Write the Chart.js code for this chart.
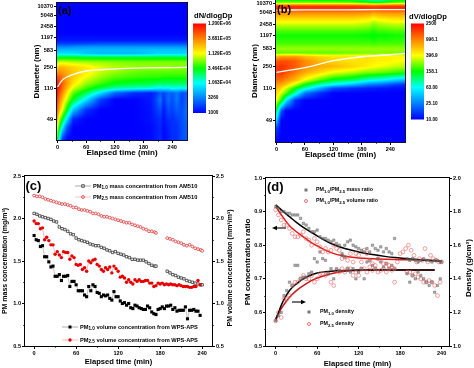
<!DOCTYPE html>
<html>
<head>
<meta charset="utf-8">
<style>
html,body{margin:0;padding:0;background:#fff;width:474px;height:368px;overflow:hidden}
canvas{position:absolute;filter:blur(.35px)}
</style>
<script src="https://cdn.jsdelivr.net/npm/chart.js@4/dist/chart.umd.min.js"></script>
</head>
<body>
<canvas id="pa"></canvas><canvas id="pb"></canvas><canvas id="pc"></canvas><canvas id="pd"></canvas>
<script>
/* ---------- data: panels (a) and (b) ---------- */
const diameterTicks = [49,110,250,583,1197,2458,5048,10370];
const heatTicksX = [0,60,120,180,240];

const colsA = [0,4,10,20,33,60,90,120,160,195,205,215,222,232,240,250,260,271];
const rowsA = [20,23,35,49,62,81,97,110,132,171,207,250,322,415,491,583,700,842,1010,1500,13000];
/* colour-bar level (0-100) read at each diameter (rows) and time (columns) */
const levelsA = [
[50,30,8,0,0,0,0,0,0,1,3,5,1,3,6,6,10,12],
[55,36,14,2,0,0,0,0,0,1,3,5,1,3,6,6,10,12],
[65,50,34,12,0,0,0,0,0,1,3,5,1,4,6,6,10,12],
[76,62,50,30,5,0,0,0,0,2,4,6,2,6,6,8,10,14],
[86,76,66,48,26,6,0,0,0,2,6,10,3,10,8,12,10,15],
[92,84,76,62,48,30,8,0,0,3,8,16,6,14,10,16,8,14],
[96,90,82,70,56,45,30,14,6,4,6,12,8,14,12,16,10,12],
[98,94,87,76,64,54,46,40,38,36,34,32,34,32,36,34,34,34],
[97,93,88,80,70,60,54,49,47,46,45,44,44,44,44,44,44,44],
[90,88,84,79,73,66,60,56,54,53,53,53,52,52,52,52,52,52],
[80,82,80,77,74,69,63,60,57,56,56,56,56,56,56,56,56,56],
[72,76,76,74,72,69,65,62,60,60,60,60,60,60,59,59,59,59],
[60,63,64,63,62,61,60,59,58,58,58,58,58,58,58,58,58,58],
[46,47,47,47,47,46,46,46,46,46,46,46,46,46,46,46,46,46],
[30,30,30,30,30,26,24,24,24,26,28,28,28,28,28,28,28,28],
[25,25,25,25,25,25,25,25,25,26,26,26,26,26,26,26,26,26],
[18,18,18,18,19,20,20,20,20,20,20,20,20,20,20,20,20,20],
[8,8,8,8,8,9,10,10,10,10,10,10,10,10,10,10,10,10],
[3,3,3,3,3,3,3,3,3,3,3,3,3,3,3,3,3,3],
[0,0,0,0,0,0,0,0,0,0,0,0,0,0,0,0,0,0],
[0,0,0,0,0,0,0,0,0,0,0,0,0,0,0,0,0,0]];
const curveTimesA = [0,12,33,60,90,160,271];
const curveDiamA = [115,155,189,215,226,241,248];
const colorbarA = ["1.200E+06","3.681E+05","1.129E+05","3.464E+04","1.063E+04","3260","1000"];

const colsB = [0,10,20,40,60,90,120,160,195,205,215,230,250,271];
const rowsB = [20,35,49,62,81,97,110,125,150,200,250,322,400,480,583,800,1197,1600,2458,3500,5048,6500,8000,9000,10370,11000,13000];
const levelsB = [
[0,0,0,0,0,0,0,0,0,0,0,0,0,0],
[8,0,0,0,0,0,0,0,0,0,0,0,0,0],
[28,0,0,0,0,0,0,0,0,0,0,0,0,0],
[46,12,0,0,0,0,0,0,0,0,0,0,0,0],
[66,52,32,6,0,0,0,0,0,0,0,0,0,0],
[72,64,56,38,16,6,0,0,0,0,0,0,0,0],
[76,72,64,50,38,24,10,6,4,4,3,3,2,2],
[80,78,74,62,50,38,32,24,16,15,14,12,8,6],
[86,86,82,76,66,56,48,44,36,35,34,32,28,25],
[92,93,90,84,78,72,66,62,58,58,57,56,54,52],
[92,94,92,88,82,78,76,72,68,67,66,65,63,62],
[88,90,90,88,82,76,72,70,70,69,68,68,67,66],
[76,80,80,80,76,72,70,70,70,69,69,69,68,68],
[56,56,56,56,56,56,56,57,58,58,58,58,58,58],
[60,60,60,60,60,60,60,60,60,60,60,60,60,60],
[54,54,54,54,54,54,54,54,54,53,54,54,54,54],
[51,51,51,51,51,51,51,51,50,49,50,50,51,51],
[55,55,55,55,55,55,55,55,54,52,54,54,55,55],
[64,64,64,64,64,64,64,64,62,59,61,62,63,63],
[72,72,72,72,72,72,72,72,70,67,69,70,71,71],
[82,82,82,82,82,82,82,82,81,79,80,81,81,81],
[92,92,92,92,92,92,92,92,92,90,91,92,92,92],
[95,95,95,95,95,95,95,95,94,93,94,95,95,95],
[85,85,85,85,85,85,85,85,83,82,83,84,85,85],
[65,65,65,65,65,65,65,65,62,60,60,62,65,65],
[58,58,58,58,58,58,58,57,52,50,50,52,56,57],
[50,50,50,50,50,48,48,46,40,38,38,40,46,48]];
const curveTimesB = [0,60,120,180,240,271];
const curveDiamB = [200,240,330,400,440,470];
const curve2TimesB = [0,60,120,180,240,271];
const curve2DiamB = [6200,6250,6300,6350,6400,6400];
const colorbarB = ["2500","996.1","396.9","158.1","63.00","25.10","10.00"];

/* ---------- data: panel (c) ---------- */
const massTimes = [0,4,8,12,16,20,24,28,32,36,40,44,48,52,56,60,64,68,72,76,80,84,88,92,96,100,104,108,112,116,120,124,128,132,136,140,144,148,152,156,160,164,168,172,174,180,190,194,198,202,206,210,214,218,222,226,230,234,238,240];
const pm25Mass = [2.27,2.26,2.26,2.25,2.23,2.22,2.21,2.20,2.19,2.18,2.17,2.17,2.16,2.15,2.13,2.13,2.11,2.10,2.10,2.09,2.08,2.06,2.06,2.05,2.03,2.02,2.02,2.01,2.00,1.99,1.98,1.97,1.96,1.95,1.95,1.93,1.92,1.91,1.90,1.88,1.87,1.85,1.85,1.84,1.83,null,1.77,1.76,1.75,1.73,1.72,1.71,1.69,1.68,1.69,1.67,1.65,1.64,1.63,1.62];
const pm10Mass = [2.06,2.05,2.03,2.02,2.01,2.00,1.99,1.97,1.96,1.90,1.88,1.87,1.85,1.82,1.81,1.77,1.75,1.74,1.73,1.72,1.70,1.69,1.68,1.68,1.66,1.65,1.63,1.62,1.60,1.61,1.59,1.58,1.57,1.55,1.54,1.52,1.52,1.51,1.51,1.51,1.49,1.47,1.45,1.44,1.44,null,1.38,1.36,1.34,1.33,1.31,1.30,1.29,1.27,1.26,1.25,1.24,1.23,1.22,1.22];
const volTimes = [0,3,6,9,12,15,18,21,24,27,30,33,36,39,42,45,48,51,54,57,60,63,66,69,72,75,78,81,84,87,90,93,96,99,102,105,108,111,114,117,120,123,126,129,132,135,138,141,144,147,150,153,156,159,162,165,168,171,174,177,180,183,186,189,192,195,198,201,204,207,210,213,216,219,222,225,228,231,234,237];
const pm10Vol = [1.80,1.75,1.74,1.67,1.68,1.55,1.55,1.49,1.43,1.44,1.32,1.32,1.34,1.27,1.32,1.32,1.33,1.20,1.26,1.26,1.22,1.15,1.15,1.15,1.10,1.08,1.20,1.15,1.22,1.20,1.13,1.12,1.08,1.10,1.09,1.10,1.06,1.04,1.14,1.08,1.08,1.03,1.00,1.01,0.98,1.00,0.95,0.94,0.98,0.97,0.95,0.94,0.93,0.93,0.97,0.95,0.90,0.88,0.87,0.93,0.94,0.96,0.94,0.97,0.97,0.98,0.93,0.95,0.91,0.92,0.92,0.92,0.96,0.82,0.92,0.92,0.93,0.91,0.91,0.86];
const pm25Vol = [1.97,1.94,1.94,1.88,1.89,1.75,1.78,1.74,1.69,1.69,1.58,1.61,1.57,1.54,1.61,1.60,1.60,1.52,1.56,1.54,1.46,1.45,1.46,1.40,1.42,1.38,1.50,1.48,1.51,1.52,1.46,1.44,1.40,1.38,1.42,1.40,1.43,1.36,1.44,1.41,1.38,1.31,1.32,1.30,1.25,1.28,1.25,1.23,1.28,1.26,1.28,1.26,1.26,1.27,1.27,1.24,1.24,1.20,1.21,1.24,1.23,1.24,1.22,1.23,1.22,1.23,1.22,1.22,1.21,1.22,1.21,1.20,1.20,1.20,1.19,1.19,1.20,1.20,1.27,1.22];
const ticksC_X = [0,60,120,180,240];
const ticksC_Y = [0.5,1.0,1.5,2.0,2.5];

/* ---------- data: panel (d) ---------- */
const ratioTimes = [0,4,8,12,16,20,24,28,32,36,40,44,48,52,56,60,64,68,72,76,80,84,88,92,96,100,104,108,112,116,120,124,128,132,136,140,144,148,152,156,160,164,168,172];
const massRatio = [.915,.91,.90,.90,.895,.895,.89,.89,.89,.88,.865,.86,.85,.84,.84,.845,.825,.82,.82,.815,.81,.815,.805,.80,.77,.80,.81,.815,.80,.795,.79,.785,.78,.79,.78,.80,.79,.785,.795,.78,.79,.78,.775,.82];
const ratioTimes2 = [190,194,198,202,206,210,214,218,222,226,230,234,238,240];
const massRatio2 = [.76,.755,.76,.755,.75,.755,.76,.755,.755,.75,.755,.755,.75,.75];
const volRatioTimes = [0,4,8,12,16,20,24,28,32,36,40,44,48,52,56,60,64,68,72,76,80,84,88,92,96,100,104,108,112,116,120,124,128,132,136,140,144,148,152,156,160,164,168,172,176,180,184,188,192,196,200,204,208,212,216,220,224,228,232,236,240];
const volRatio = [.905,.89,.875,.86,.86,.85,.835,.825,.825,.83,.84,.82,.815,.80,.82,.81,.795,.78,.79,.78,.785,.80,.79,.785,.76,.765,.755,.775,.75,.775,.77,.75,.785,.775,.755,.745,.74,.76,.755,.745,.745,.74,.735,.73,.75,.775,.78,.79,.80,.785,.77,.75,.76,.755,.79,.75,.77,.76,.755,.75,.75];
const fitTimes = [0,10,20,30,40,50,60,80,100,120,140,160,180,200,220,240];
const fitMass = [.92,.902,.885,.868,.853,.84,.828,.805,.79,.78,.772,.766,.762,.758,.755,.752];
const fitVol = [.915,.885,.858,.84,.825,.81,.798,.778,.767,.762,.76,.758,.757,.756,.755,.753];
const densTimes = [0,4,8,12,16,20,24,28,32,36,40,44,48,52,56,60,64,68,72,76,80,84,88,92,96,100,104,108,112,116,120,124,128,132,136,140,144,148,152,156,160,164,168,172,190,194,198,202,206,210,214,218,222,226,230,234,238];
const dens10 = [1.15,1.18,1.20,1.30,1.33,1.38,1.36,1.48,1.48,1.40,1.41,1.41,1.43,1.44,1.52,1.50,1.56,1.52,1.51,1.43,1.46,1.40,1.46,1.45,1.55,1.53,1.46,1.44,1.46,1.40,1.44,1.46,1.40,1.50,1.51,1.48,1.46,1.52,1.50,1.47,1.49,1.46,1.48,1.46,1.43,1.38,1.42,1.40,1.44,1.42,1.40,1.38,1.36,1.38,1.32,1.36,1.40];
const dens25 = [1.15,1.20,1.17,1.28,1.28,1.30,1.36,1.38,1.38,1.40,1.42,1.40,1.40,1.42,1.38,1.40,1.43,1.43,1.42,1.43,1.38,1.36,1.45,1.44,1.46,1.44,1.46,1.46,1.42,1.44,1.42,1.46,1.46,1.44,1.47,1.45,1.46,1.44,1.45,1.46,1.44,1.46,1.45,1.38,1.44,1.44,1.42,1.43,1.41,1.40,1.38,1.38,1.39,1.38,1.36,1.30,1.38];
const fitDensTimes = [0,5,10,20,30,40,50,60,80,100,120,160,200,230];
const fitDens10 = [1.16,1.21,1.26,1.33,1.37,1.40,1.42,1.435,1.445,1.45,1.452,1.452,1.452,1.452];
const fitDens25 = [1.15,1.20,1.235,1.29,1.33,1.36,1.385,1.405,1.43,1.445,1.45,1.452,1.452,1.452];
const ticksD_Left = [0.5,0.6,0.7,0.8,0.9,1.0];
const ticksD_Right = [1.0,1.2,1.4,1.6,1.8,2.0];
const minorTimes = [30,90,150,210];
const minorC = [0.75,1.25,1.75,2.25];
const minorDL = [0.55,0.65,0.75,0.85,0.95];

/* ---------- helpers ---------- */
const FONT = '"Liberation Sans", Arial, sans-serif';
Chart.defaults.font.family = FONT;
Chart.defaults.font.weight = 'bold';
Chart.defaults.color = '#000';
const pts = (xs,ys)=>xs.map((x,i)=>({x,y:ys[i]}));

/* The instrument's diameter axis is not logarithmic: map nm to axis units piecewise */
const axisKnotsD = [20,49,110,250,583,1197,2458,5048,10370,13000];
const axisKnotsU = [0,21,52,73,90,103,114,125,134,137.3];
function axisY(d){
  for(let i=0;i<axisKnotsD.length-1;i++){
    if(d<=axisKnotsD[i+1]){
      const f=Math.log(d/axisKnotsD[i])/Math.log(axisKnotsD[i+1]/axisKnotsD[i]);
      return axisKnotsU[i]+f*(axisKnotsU[i+1]-axisKnotsU[i]);
    }
  }
  return axisKnotsU[axisKnotsU.length-1];
}
const stops=[[0,0,255],[0,128,255],[0,255,255],[0,255,0],[255,255,0],[255,128,0],[255,0,0]];
function colorAt(level){
  const t=Math.max(0,Math.min(1,level/100))*(stops.length-1);
  const i=Math.min(stops.length-2,Math.floor(t)),f=t-i;
  return [0,1,2].map(k=>stops[i][k]+(stops[i+1][k]-stops[i][k])*f);
}
function bracket(arr,v){
  let i=0;
  while(i<arr.length-2 && v>arr[i+1]) i++;
  return [i,Math.max(0,Math.min(1,(v-arr[i])/(arr[i+1]-arr[i])))];
}
const heatPlugin={id:'heat',beforeDatasetsDraw(chart,_,o){
  if(!o.levels) return;
  const {left,top,right,bottom}=chart.chartArea;
  const L=Math.round(left),T=Math.round(top),W=Math.round(right)-L,H=Math.round(bottom)-T;
  const img=chart.ctx.createImageData(W,H);
  const rowU=o.rows.map(axisY);
  const sx=chart.scales.x,sy=chart.scales.y;
  for(let py=0;py<H;py++){
    const [r,fr]=bracket(rowU,sy.getValueForPixel(T+py+.5));
    for(let px=0;px<W;px++){
      const [c,fc]=bracket(o.cols,sx.getValueForPixel(L+px+.5));
      const m=o.levels;
      const v=(m[r][c]*(1-fc)+m[r][c+1]*fc)*(1-fr)+(m[r+1][c]*(1-fc)+m[r+1][c+1]*fc)*fr;
      const col=colorAt(v),k=(py*W+px)*4;
      img.data[k]=col[0];img.data[k+1]=col[1];img.data[k+2]=col[2];img.data[k+3]=255;
    }
  }
  chart.ctx.putImageData(img,L,T);
}};
const decorPlugin={id:'decor',afterDatasetsDraw(chart,_,o){
  const ctx=chart.ctx,a=chart.chartArea,ox=o.ox,oy=o.oy;
  ctx.save();
  ctx.strokeStyle=o.frame||'#000';ctx.lineWidth=1;
  ctx.strokeRect(Math.round(a.left)-.5,Math.round(a.top)-.5,Math.round(a.right-a.left)+1,Math.round(a.bottom-a.top)+1);
  ctx.strokeStyle='#000';ctx.lineWidth=.8;ctx.beginPath();
  (o.minor||[]).forEach(m=>{
    const s=chart.scales[m.axis];
    m.values.forEach(v=>{
      const p=Math.round(s.getPixelForValue(v))+.5;
      if(m.axis==='x'){ctx.moveTo(p,a.bottom);ctx.lineTo(p,a.bottom+1.8);}
      else if(m.axis==='y'){ctx.moveTo(a.left,p);ctx.lineTo(a.left-1.8,p);}
      else{ctx.moveTo(a.right,p);ctx.lineTo(a.right+1.8,p);}
    });
  });
  ctx.stroke();
  ctx.fillStyle='#000';ctx.textBaseline='middle';
  if(o.label){ctx.font=`bold ${o.label.size}px ${FONT}`;ctx.textAlign='left';ctx.fillText(o.label.text,o.label.x-ox,o.label.y-oy);}
  if(o.rightTitle){
    ctx.save();ctx.translate(o.rightTitle.x-ox,o.rightTitle.y-oy);ctx.rotate(-Math.PI/2);
    ctx.textAlign='center';ctx.font=`bold ${o.rightTitle.size}px ${FONT}`;ctx.fillText(o.rightTitle.text,0,0);ctx.restore();
  }
  if(o.bar){
    const b=o.bar;
    ctx.textAlign='left';ctx.font=`bold 7.6px ${FONT}`;ctx.fillText(b.title,b.tx-ox,b.ty-oy);
    const g=ctx.createLinearGradient(0,b.top-oy,0,b.bottom-oy);
    stops.forEach((s,i)=>g.addColorStop(1-i/(stops.length-1),`rgb(${s})`));
    ctx.fillStyle=g;ctx.fillRect(b.x-ox,b.top-oy,b.w,b.bottom-b.top);
    ctx.fillStyle='#000';ctx.font=`bold 4.7px ${FONT}`;
    b.labels.forEach((t,i)=>ctx.fillText(t,b.x+b.w+2-ox,b.top+(b.bottom-b.top)*i/(b.labels.length-1)-oy));
  }
  (o.legend||[]).forEach(l=>{
    const size=l.size||5.7;
    if(l.x0!==undefined){ctx.strokeStyle=l.lineColor;ctx.lineWidth=.6;ctx.beginPath();ctx.moveTo(l.x0-ox,l.y-oy);ctx.lineTo(l.x1-ox,l.y-oy);ctx.stroke();}
    const mx=l.mx-ox,my=l.y-oy,r=l.r||1.5;
    ctx.lineWidth=.8;ctx.strokeStyle=l.color;ctx.fillStyle=l.color;
    if(l.mark==='square'){ctx.fillRect(mx-r,my-r,r*2,r*2);}
    else if(l.mark==='osquare'){ctx.fillStyle='#fff';ctx.fillRect(mx-r,my-r,r*2,r*2);ctx.strokeRect(mx-r,my-r,r*2,r*2);}
    else if(l.mark==='circle'){ctx.beginPath();ctx.arc(mx,my,r,0,7);ctx.fill();}
    else if(l.mark==='ocircle'){ctx.beginPath();ctx.arc(mx,my,r,0,7);ctx.fillStyle='#fff';ctx.fill();ctx.stroke();}
    ctx.fillStyle='#000';ctx.textAlign='left';
    let x=l.tx-ox;const y=l.y-oy;
    l.parts.forEach(p=>{
      const sub=typeof p!=='string';const s=sub?p.sub:p;
      ctx.font=`bold ${sub?size*.8:size}px ${FONT}`;
      ctx.fillText(s,x,sub?y+1.8:y);x+=ctx.measureText(s).width;
    });
  });
  (o.arrows||[]).forEach(ar=>{
    ctx.strokeStyle='#000';ctx.fillStyle='#000';ctx.lineWidth=1.1;
    const x0=ar.x0-ox,x1=ar.x1-ox,y=ar.y-oy,dir=Math.sign(x1-x0);
    ctx.beginPath();ctx.moveTo(x0,y);ctx.lineTo(x1-dir*3,y);ctx.stroke();
    ctx.beginPath();ctx.moveTo(x1,y);ctx.lineTo(x1-dir*5,y-2.2);ctx.lineTo(x1-dir*5,y+2.2);ctx.closePath();ctx.fill();
  });
  ctx.restore();
}};

function place(id,box){
  const c=document.getElementById(id);
  c.width=box.w;c.height=box.h;c.style.left=box.x+'px';c.style.top=box.y+'px';
  c.style.width=box.w+'px';c.style.height=box.h+'px';
  return c;
}
function axisBase(size,tickSize){
  return {
    type:'linear',
    border:{display:false},
    grid:{display:true,drawOnChartArea:false,drawTicks:true,tickLength:3,tickColor:'#000',tickWidth:1},
    ticks:{font:{size:tickSize,weight:'bold'},padding:1,autoSkip:false,maxRotation:0,minRotation:0,includeBounds:false}
  };
}
function xAxis(box,plot,range,ticks,titlePadBottom,tf){
  return Object.assign(axisBase(8,5.6),{
    position:'bottom',min:range[0],max:range[1],
    afterBuildTicks:s=>{s.ticks=ticks.map(v=>({value:v}));},
    afterFit:s=>{s.height=box.y+box.h-plot.b;},
    title:{display:true,text:'Elapsed time (min)',font:{size:tf,weight:'bold'},padding:{top:0,bottom:titlePadBottom}}
  });
}
function yAxis(box,plot,range,ticks,title,titlePadTop,tf,cb){
  const ax=axisBase(8,5.6);
  if(cb) ax.ticks.callback=cb;
  return Object.assign(ax,{
    position:'left',min:range[0],max:range[1],
    afterBuildTicks:s=>{s.ticks=ticks.map(v=>({value:v}));},
    afterFit:s=>{s.width=plot.l-box.x;},
    title:{display:true,text:title,font:{size:tf,weight:'bold'},padding:{top:titlePadTop,bottom:0}}
  });
}
function heatChart(id,box,plot,cols,rows,levels,curves,legendName,decor){
  const cells=[];
  rows.forEach((d,r)=>cols.forEach((t,c)=>cells.push({x:t,y:axisY(d),v:levels[r][c]})));
  const datasets=curves.map(cv=>({type:'scatter',label:'median',data:pts(cv.t,cv.d.map(axisY)),showLine:true,
      borderColor:'#fff',borderWidth:1.3,pointRadius:0,tension:.4,fill:false}));
  datasets.push({type:'scatter',label:legendName,data:cells,pointRadius:0,showLine:false});
  new Chart(place(id,box),{
    type:'scatter',
    data:{datasets},
    options:{
      responsive:false,animation:false,devicePixelRatio:1,events:[],
      layout:{padding:{left:0,top:plot.t-box.y,right:box.x+box.w-plot.r,bottom:0}},
      plugins:{legend:{display:false},tooltip:{enabled:false},
        heat:{levels,rows,cols},
        decor:Object.assign({ox:box.x,oy:box.y},decor)},
      scales:{
        x:xAxis(box,plot,[-1,271],heatTicksX,decor.xTitlePad,8),
        y:yAxis(box,plot,[0,137.3],diameterTicks.map(axisY),'Diameter (nm)',decor.yTitlePad,8,
          (v,i)=>String(diameterTicks[i]))
      }
    },
    plugins:[heatPlugin,decorPlugin]
  });
}

/* ---------- (a) ---------- */
{
  const box={x:0,y:-10,w:237,h:180},plot={l:57,t:3,r:187,b:140};
  heatChart('pa',box,plot,colsA,rowsA,levelsA,
    [{t:curveTimesA,d:curveDiamA}],'dN/dlogDp',
    {frame:'#101040',xTitlePad:12,yTitlePad:32,
     minor:[{axis:'x',values:minorTimes}],
     label:{text:'(a)',x:58,y:10.5,size:11},
     bar:{title:'dN/dlogDp',tx:194,ty:16,x:193,w:13,top:23.5,bottom:113,labels:colorbarA}});
}
/* ---------- (b) ---------- */
{
  const box={x:237,y:-10,w:237,h:180},plot={l:276,t:0,r:405,b:142};
  heatChart('pb',box,plot,colsB,rowsB,levelsB,
    [{t:curveTimesB,d:curveDiamB},{t:curve2TimesB,d:curve2DiamB}],'dV/dlogDp',
    {frame:'#101040',xTitlePad:10,yTitlePad:13,
     minor:[{axis:'x',values:minorTimes}],
     label:{text:'(b)',x:277,y:9.5,size:11},
     bar:{title:'dV/dlogDp',tx:409,ty:17,x:411,w:13,top:23.5,bottom:119.5,labels:colorbarB}});
}
/* ---------- (c) ---------- */
{
  const box={x:0,y:170,w:237,h:198},plot={l:25,t:176,r:212,b:346};
  new Chart(place('pc',box),{
    type:'scatter',
    data:{datasets:[
      {label:'PM1.0 volume concentration from WPS-APS',data:pts(volTimes,pm10Vol),showLine:true,borderColor:'#9a9a9a',borderWidth:.6,
        pointStyle:'rect',pointRadius:2.2,pointBackgroundColor:'#000',pointBorderColor:'#000',pointBorderWidth:0},
      {label:'PM2.5 volume concentration from WPS-APS',data:pts(volTimes,pm25Vol),showLine:true,borderColor:'#f09090',borderWidth:.6,
        pointStyle:'circle',pointRadius:1.7,pointBackgroundColor:'#e80000',pointBorderColor:'#e80000',pointBorderWidth:0},
      {label:'PM1.0 mass concentration from AM510',data:pts(massTimes,pm10Mass),showLine:true,spanGaps:false,borderColor:'#777',borderWidth:.6,
        pointStyle:'rect',pointRadius:1.7,pointBackgroundColor:'#fff',pointBorderColor:'#222',pointBorderWidth:.7},
      {label:'PM2.5 mass concentration from AM510',data:pts(massTimes,pm25Mass),showLine:true,spanGaps:false,borderColor:'#f0a0a0',borderWidth:.6,
        pointStyle:'circle',pointRadius:1.4,pointBackgroundColor:'#fff',pointBorderColor:'#e02020',pointBorderWidth:.7}
    ]},
    options:{
      responsive:false,animation:false,devicePixelRatio:1,events:[],
      layout:{padding:{left:0,top:plot.t-box.y,right:0,bottom:0}},
      plugins:{legend:{display:false},tooltip:{enabled:false},
        decor:{ox:box.x,oy:box.y,
          minor:[{axis:'x',values:minorTimes},{axis:'y',values:minorC},{axis:'y2',values:minorC}],
          label:{text:'(c)',x:25.5,y:186,size:13},
          rightTitle:{text:'PM volume concentration (mm³/m³)',x:230,y:268,size:7},
          legend:[
            {parts:['PM',{sub:'1.0'},' mass concentration from AM510'],tx:93,y:186,mx:83,x0:75,x1:91,mark:'osquare',color:'#222',lineColor:'#777',r:1.2},
            {parts:['PM',{sub:'2.5'},' mass concentration from AM510'],tx:93,y:197,mx:83,x0:75,x1:91,mark:'ocircle',color:'#e02020',lineColor:'#f0a0a0',r:1.4},
            {parts:['PM',{sub:'1.0'},' volume concentration from WPS-APS'],tx:80,y:327,mx:70,x0:62,x1:78,mark:'square',color:'#000',lineColor:'#777',r:1.5},
            {parts:['PM',{sub:'2.5'},' volume concentration from WPS-APS'],tx:80,y:340,mx:70,x0:62,x1:78,mark:'circle',color:'#e80000',lineColor:'#f09090',r:1.7}
          ]}},
      scales:{
        x:xAxis(box,plot,[-13,254],ticksC_X,1.5,7.6),
        y:yAxis(box,plot,[0.5,2.5],ticksC_Y,'PM mass concentration (mg/m³)',1,7,v=>v.toFixed(1)),
        y2:Object.assign(axisBase(8,5.6),{position:'right',min:0.5,max:2.5,
          afterBuildTicks:s=>{s.ticks=ticksC_Y.map(v=>({value:v}));},
          afterFit:s=>{s.width=box.x+box.w-plot.r;},
          ticks:{font:{size:5.6,weight:'bold'},padding:1,callback:v=>v.toFixed(1),autoSkip:false}})
      }
    },
    plugins:[decorPlugin]
  });
}
/* ---------- (d) ---------- */
{
  const box={x:237,y:170,w:237,h:198},plot={l:266,t:178,r:449,b:346};
  const grayS={pointStyle:'rect',pointRadius:1.7,pointBackgroundColor:'rgba(110,110,110,.55)',pointBorderColor:'rgba(90,90,90,.8)',pointBorderWidth:.5,showLine:false};
  const pinkC={pointStyle:'circle',pointRadius:1.9,pointBackgroundColor:'rgba(255,255,255,0)',pointBorderColor:'rgba(235,90,90,.8)',pointBorderWidth:.7,showLine:false};
  const fit=(c)=>({showLine:true,borderColor:c,borderWidth:1.5,pointRadius:0,tension:.4});
  new Chart(place('pd',box),{
    type:'scatter',
    data:{datasets:[
      Object.assign({label:'PM1.0/PM2.5 mass ratio',data:pts(ratioTimes,massRatio).concat(pts(ratioTimes2,massRatio2)),yAxisID:'y'},grayS),
      Object.assign({label:'PM1.0/PM2.5 volume ratio',data:pts(volRatioTimes,volRatio),yAxisID:'y'},pinkC),
      Object.assign({label:'PM1.0 density',data:pts(densTimes,dens10),yAxisID:'y2'},grayS),
      Object.assign({label:'PM2.5 density',data:pts(densTimes,dens25),yAxisID:'y2'},pinkC),
      Object.assign({label:'mass ratio fit',data:pts(fitTimes,fitMass),yAxisID:'y'},fit('#000')),
      Object.assign({label:'volume ratio fit',data:pts(fitTimes,fitVol),yAxisID:'y'},fit('#e01818')),
      Object.assign({label:'PM1.0 density fit',data:pts(fitDensTimes,fitDens10),yAxisID:'y2'},fit('#000')),
      Object.assign({label:'PM2.5 density fit',data:pts(fitDensTimes,fitDens25),yAxisID:'y2'},fit('#c81818'))
    ]},
    options:{
      responsive:false,animation:false,devicePixelRatio:1,events:[],
      layout:{padding:{left:0,top:plot.t-box.y,right:0,bottom:0}},
      plugins:{legend:{display:false},tooltip:{enabled:false},
        decor:{ox:box.x,oy:box.y,
          minor:[{axis:'x',values:minorTimes},{axis:'y',values:minorDL},{axis:'y2',values:minorDL.map(v=>v*2)}],
          label:{text:'(d)',x:267,y:187,size:13},
          rightTitle:{text:'Density (g/cm³)',x:469,y:268,size:8},
          legend:[
            {parts:['PM',{sub:'1.0'},'/PM',{sub:'2.5'},' mass ratio'],tx:316,y:190,mx:306,mark:'square',color:'#777',size:5.3},
            {parts:['PM',{sub:'1.0'},'/PM',{sub:'2.5'},' volume ratio'],tx:316,y:201,mx:306,mark:'ocircle',color:'#e85050',size:5.3},
            {parts:['PM',{sub:'1.0'},' density'],tx:320,y:312,mx:309,mark:'square',color:'#777',size:5.3},
            {parts:['PM',{sub:'2.5'},' density'],tx:320,y:324,mx:309,mark:'ocircle',color:'#e85050',size:5.3}
          ],
          arrows:[{x0:286,x1:272,y:228},{x0:292,x1:306,y:302}]}},
      scales:{
        x:xAxis(box,plot,[-14,250.7],[0,60,120,180,240],0,7.6),
        y:yAxis(box,plot,[0.5,1.0],ticksD_Left,'PM concentration ratio',6,8,v=>v.toFixed(1)),
        y2:Object.assign(axisBase(8,5.6),{position:'right',min:1,max:2,
          afterBuildTicks:s=>{s.ticks=ticksD_Right.map(v=>({value:v}));},
          afterFit:s=>{s.width=box.x+box.w-plot.r;},
          ticks:{font:{size:5.6,weight:'bold'},padding:1,callback:v=>v.toFixed(1),autoSkip:false}})
      }
    },
    plugins:[decorPlugin]
  });
}
</script>
</body>
</html>
